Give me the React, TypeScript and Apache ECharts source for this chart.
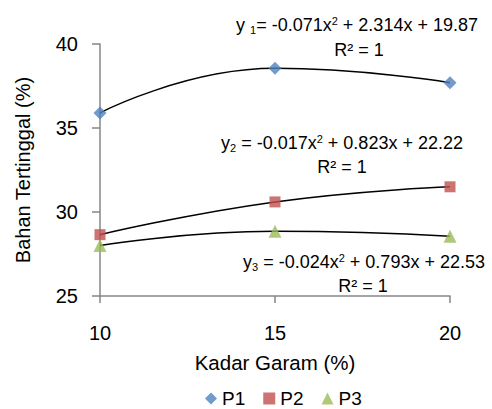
import React, { useEffect, useRef } from "react";
import * as echarts from "echarts";

const xValues = [10, 15, 20];
const p1 = [35.9, 38.55, 37.7];
const p2 = [28.65, 30.6, 31.5];
const p3 = [28.0, 28.85, 28.55];
const seriesNames = ["P1", "P2", "P3"];
const colors = ["#4F81BD", "#C0504D", "#9BBB59"];
const symbols = ["diamond", "rect", "triangle"];
const xTicks = { min: 10, max: 20, interval: 5 };
const yTicks = { min: 25, max: 40, interval: 5 };

const FONT = "'Liberation Sans', Arial, sans-serif";

export default function App() {
  const ref = useRef<HTMLDivElement>(null);
  useEffect(() => {
    document.body.style.margin = "0";
    if (!ref.current) return;
    const chart = echarts.init(ref.current, undefined, { renderer: "svg" });
    const all = [p1, p2, p3];
    const pairs = (arr: number[]) => xValues.map((x, i) => [x, arr[i]]);
    const series: any[] = [];
    all.forEach((arr, i) => {
      series.push({
        name: seriesNames[i] + " trend",
        type: "line",
        data: pairs(arr),
        smooth: 0.5,
        showSymbol: false,
        symbol: "none",
        lineStyle: { color: "#000", width: 1.5 },
        silent: true,
        z: 2,
      });
    });
    all.forEach((arr, i) => {
      series.push({
        name: seriesNames[i],
        type: "scatter",
        data: pairs(arr),
        symbol: symbols[i],
        symbolSize: i === 0 ? 13 : i === 1 ? 11 : 13,
        itemStyle: { color: colors[i] },
        z: 3,
      });
    });
    const base = { fontSize: 18, fontFamily: FONT, color: "#000", lineHeight: 20 };
    const sup = { fontSize: 11, fontFamily: FONT, color: "#000", verticalAlign: "top", lineHeight: 11 };
    const sub = { fontSize: 11, fontFamily: FONT, color: "#000", verticalAlign: "bottom", lineHeight: 11 };
    const rich = { b: base, sp: sup, sb: sub };
    const eq = (txt: string, x: number, y: number) => ({
      type: "text",
      x,
      y,
      style: {
        text: txt,
        rich,
        align: "center",
        verticalAlign: "middle",
        font: `18px ${FONT}`,
        fill: "#000",
      },
      z: 10,
    });
    chart.setOption({
      animation: false,
      textStyle: { fontFamily: FONT },
      grid: { left: 100, right: 42, top: 44, bottom: 113 },
      legend: {
        data: seriesNames.map((n, i) => ({ name: n, icon: symbols[i] })),
        left: 205,
        top: 389,
        padding: 0,
        itemWidth: 12,
        itemHeight: 12,
        itemGap: 18,
        textStyle: { fontSize: 19, lineHeight: 19, fontFamily: FONT, color: "#000" },
      },
      xAxis: {
        type: "value",
        min: xTicks.min,
        max: xTicks.max,
        interval: xTicks.interval,
        name: "Kadar Garam (%)",
        nameLocation: "middle",
        nameGap: 56,
        nameTextStyle: { fontSize: 20.5, color: "#000", fontFamily: FONT },
        axisLine: { lineStyle: { color: "#868686", width: 1.5 } },
        axisTick: { show: true, length: 7, lineStyle: { color: "#868686", width: 1.5 } },
        axisLabel: { fontSize: 20, color: "#000", margin: 27, fontFamily: FONT },
        splitLine: { show: false },
      },
      yAxis: {
        type: "value",
        min: yTicks.min,
        max: yTicks.max,
        interval: yTicks.interval,
        name: "Bahan Tertinggal (%)",
        nameLocation: "middle",
        nameGap: 67,
        nameTextStyle: { fontSize: 20, color: "#000", fontFamily: FONT },
        axisLine: { show: true, lineStyle: { color: "#868686", width: 1.5 } },
        axisTick: { show: true, length: 8, lineStyle: { color: "#868686", width: 1.5 } },
        axisLabel: { fontSize: 20, color: "#000", margin: 22, fontFamily: FONT },
        splitLine: { show: false },
      },
      series,
      graphic: [
        eq("{b|y }{sb|1}{b|= -0.071x}{sp|2}{b| + 2.314x + 19.87}", 357, 25),
        eq("{b|R² = 1}", 359, 50),
        eq("{b|y}{sb|2}{b| = -0.017x}{sp|2}{b| + 0.823x + 22.22}", 342, 143),
        eq("{b|R² = 1}", 342, 167),
        eq("{b|y}{sb|3}{b| = -0.024x}{sp|2}{b| + 0.793x + 22.53}", 364, 262),
        eq("{b|R² = 1}", 363, 286),
      ],
    });
    return () => chart.dispose();
  }, []);
  return <div ref={ref} style={{ width: 492, height: 409 }} />;
}
